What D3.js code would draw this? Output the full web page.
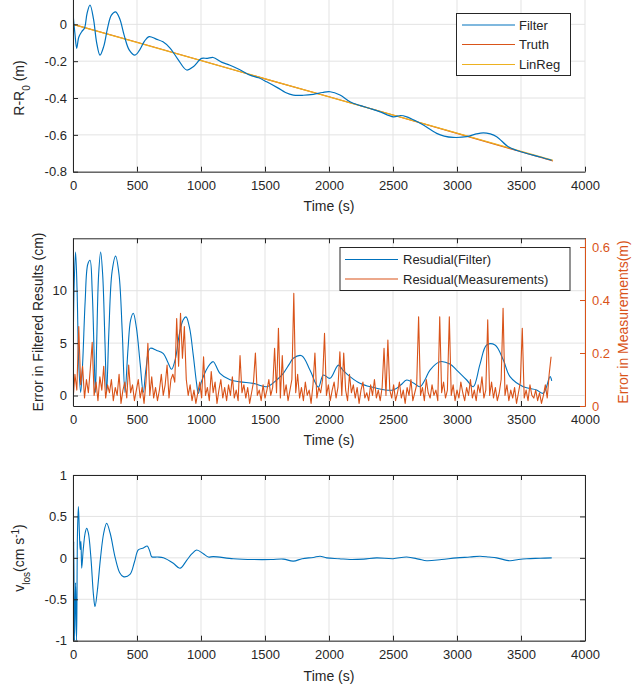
<!DOCTYPE html>
<html><head><meta charset="utf-8">
<script src="https://cdn.jsdelivr.net/npm/d3@7"></script>
<style>
body{margin:0;background:#fff;}
svg{display:block;font-family:"Liberation Sans",Arial,Helvetica,sans-serif;}
</style></head><body>
<svg id="c" width="642" height="689"></svg>
<script>
// ---------- data ----------
const timeTicks = [0,500,1000,1500,2000,2500,3000,3500,4000];
const timeTickLabels = ["0","500","1000","1500","2000","2500","3000","3500","4000"];

// Panel 1: R - R0 (m)
const rTicks = [-0.8,-0.6,-0.4,-0.2,0];
const rTickLabels = ["-0.8","-0.6","-0.4","-0.2","0"];
const filterTime = [0,15,29,45,68,90,110,133,160,185,211,240,270,300,333,365,400,440,484,520,560,594,650,703,760,820,888,940,1005,1050,1095,1160,1227,1300,1383,1450,1513,1600,1660,1721,1800,1877,1950,2008,2086,2164,2240,2320,2400,2502,2560,2607,2680,2737,2841,2900,2971,3076,3150,3206,3260,3310,3401,3470,3545,3650,3740];
const filterR = [0.06,-0.05,-0.13,-0.07,-0.04,-0.02,0.06,0.105,0.03,-0.10,-0.167,-0.12,-0.02,0.05,0.068,0.03,-0.06,-0.14,-0.167,-0.14,-0.09,-0.067,-0.08,-0.095,-0.13,-0.19,-0.248,-0.23,-0.185,-0.185,-0.18,-0.205,-0.222,-0.245,-0.276,-0.29,-0.312,-0.345,-0.37,-0.384,-0.385,-0.38,-0.37,-0.366,-0.384,-0.42,-0.44,-0.457,-0.475,-0.502,-0.495,-0.502,-0.525,-0.547,-0.592,-0.607,-0.614,-0.61,-0.595,-0.589,-0.595,-0.61,-0.665,-0.685,-0.701,-0.72,-0.738];
const truthTime = [0,500,1000,1500,2000,2500,3000,3500,3750];
const truthR = [0,-0.097,-0.196,-0.296,-0.393,-0.492,-0.592,-0.692,-0.742];
const linRegTime = [0,3750];
const linRegR = [0,-0.738];

// Panel 2: residuals
const errLeftTicks = [0,5,10];
const errLeftLabels = ["0","5","10"];
const errRightTicks = [0,0.2,0.4,0.6];
const errRightLabels = ["0","0.2","0.4","0.6"];
const resFilterTime = [0,8,20,32,45,60,75,95,115,133,150,165,175,185,200,216,232,250,263,280,305,333,360,385,406,430,450,471,495,525,549,570,602,654,706,740,770,800,830,860,883,910,940,965,979,1000,1040,1070,1096,1148,1227,1305,1409,1513,1591,1643,1690,1721,1787,1852,1917,1956,2008,2073,2110,2164,2242,2372,2502,2560,2607,2660,2711,2750,2789,2867,2945,2997,3076,3127,3180,3232,3297,3362,3414,3518,3622,3674,3727,3740];
const resFilterCm = [2,10,13.7,10,3,0.3,3,9,12.5,12.9,10,4,0.3,5,11.5,13.7,11.5,5,0.3,6,11.8,13.3,11.5,6,0.3,4.5,7.2,7.85,6.5,3,0.3,2.5,4.5,4.3,4.0,3.2,2.5,3.5,5.8,7.2,7.5,6.5,3.8,1.2,0.2,1.2,2.4,3.0,3.23,2.12,1.5,1.3,1.16,0.84,1.48,2.12,3.0,3.55,3.8,2.4,0.8,1.96,1.64,2.9,2.4,1.8,1.16,0.69,0.53,1.0,1.48,1.2,0.84,1.5,2.43,3.23,3.0,2.43,1.48,0.84,3.0,4.82,4.82,3.39,1.8,0.84,0.53,0.21,1.8,1.4];
const measStep = 15; // seconds between measurement residual samples
const resMeasM = [
0.02,0.12,0.06,0.30,0.08,0.15,0.03,0.10,0.05,0.14,
0.24,0.04,0.09,0.02,0.11,0.06,0.15,0.03,0.08,0.05,
0.10,0.02,0.07,0.04,0.12,0.01,0.06,0.09,0.03,0.155,
0.05,0.08,0.02,0.06,0.10,0.03,0.07,0.01,0.09,0.237,
0.04,0.11,0.03,0.07,0.02,0.06,0.12,0.04,0.08,0.155,
0.03,0.10,0.12,0.09,0.33,0.15,0.35,0.18,0.30,0.10,
0.04,0.08,0.02,0.06,0.01,0.05,0.09,0.03,0.186,0.04,
0.07,0.02,0.13,0.05,0.09,0.01,0.06,0.10,0.03,0.07,
0.02,0.08,0.04,0.11,0.03,0.06,0.02,0.19,0.05,0.08,
0.03,0.07,0.01,0.05,0.09,0.20,0.04,0.06,0.02,0.08,
0.03,0.06,0.10,0.04,0.07,0.218,0.05,0.293,0.03,0.19,
0.04,0.08,0.02,0.06,0.10,0.425,0.05,0.12,0.03,0.07,
0.02,0.09,0.04,0.06,0.01,0.08,0.20,0.03,0.07,0.05,
0.10,0.274,0.04,0.08,0.02,0.06,0.09,0.03,0.07,0.205,
0.04,0.20,0.06,0.02,0.12,0.05,0.08,0.03,0.07,0.01,
0.06,0.09,0.03,0.05,0.02,0.08,0.04,0.10,0.03,0.06,
0.02,0.07,0.218,0.04,0.249,0.06,0.03,0.08,0.02,0.05,
0.09,0.03,0.06,0.01,0.07,0.04,0.10,0.02,0.05,0.08,
0.337,0.04,0.07,0.02,0.10,0.05,0.03,0.08,0.04,0.06,
0.02,0.337,0.05,0.09,0.03,0.06,0.337,0.04,0.08,0.02,
0.06,0.03,0.09,0.05,0.02,0.07,0.04,0.10,0.03,0.06,
0.02,0.08,0.05,0.11,0.03,0.06,0.325,0.04,0.09,0.03,
0.07,0.02,0.05,0.10,0.369,0.04,0.08,0.02,0.06,0.03,
0.07,0.01,0.05,0.09,0.293,0.03,0.06,0.02,0.08,0.04,
0.03,0.06,0.02,0.05,0.01,0.04,0.08,0.03,0.12,0.186];

// Panel 3: v_los
const vTicks = [-1,-0.5,0,0.5,1];
const vTickLabels = ["-1","-0.5","0","0.5","1"];
const vTime = [0,6,12,20,28,35,42,50,56,62,68,80,95,107,120,140,160,172,190,215,240,263,290,330,365,393,445,480,510,550,580,600,615,660,706,784,836,888,930,966,1018,1057,1096,1252,1409,1550,1643,1721,1790,1877,1930,1982,2080,2164,2272,2372,2500,2607,2700,2763,2880,2997,3100,3180,3250,3310,3414,3480,3545,3650,3740];
const vLos = [-1,0.2,-1,-0.3,-1,0.3,0.62,0.3,0.1,0.2,-0.126,0.1,0.3,0.357,0.3,0.0,-0.45,-0.59,-0.4,0.0,0.3,0.417,0.3,0.0,-0.18,-0.227,-0.2,-0.05,0.095,0.12,0.143,0.08,0.014,0.01,0.0,-0.066,-0.126,-0.03,0.05,0.095,0.05,0.01,0.015,-0.01,-0.02,-0.02,-0.015,-0.04,-0.01,0.005,0.02,0.0,-0.01,-0.02,-0.015,0.0,-0.01,0.01,-0.015,-0.035,-0.02,0.0,0.01,0.02,0.01,0.0,-0.035,-0.02,-0.01,-0.005,0.0];

// ---------- drawing ----------
const BLUE="#0072BD", ORANGE="#D95319", YELLOW="#EDB120", AX="#262626", GRID="#e3e3e3";
const svg = d3.select("#c");
const x = d3.scaleLinear().domain([0,4000]).range([73,585]);
const X0=73, X1=585;

function zip(a,b){return a.map((t,i)=>[t,b[i]]);}

function grid(y, yTicks){
  const g = svg.append("g");
  g.selectAll("line.v").data(timeTicks).join("line")
    .attr("x1",d=>x(d)).attr("x2",d=>x(d))
    .attr("y1",y.range()[0]).attr("y2",y.range()[1])
    .attr("stroke",GRID).attr("stroke-width",1);
  g.selectAll("line.h").data(yTicks).join("line")
    .attr("x1",X0).attr("x2",X1)
    .attr("y1",d=>y(d)).attr("y2",d=>y(d))
    .attr("stroke",GRID).attr("stroke-width",1);
}
function styleAxis(g,color){
  g.selectAll(".domain").attr("stroke",color).attr("stroke-width",1);
  g.selectAll(".tick line").attr("stroke",color).attr("stroke-width",1);
  g.selectAll(".tick text").attr("fill",color).attr("font-size","13px")
    .attr("font-family",'"Liberation Sans",Arial,sans-serif');
  return g;
}
function clip(id,y){
  svg.append("clipPath").attr("id",id).append("rect")
    .attr("x",X0).attr("y",Math.min(...y.range()))
    .attr("width",X1-X0).attr("height",Math.abs(y.range()[0]-y.range()[1]));
}
function drawLine(pts,y,color,clipId,curve,w){
  svg.append("path").datum(pts)
    .attr("clip-path",`url(#${clipId})`)
    .attr("fill","none").attr("stroke",color).attr("stroke-width",w||1.1)
    .attr("stroke-linejoin","round")
    .attr("d",d3.line().x(d=>x(d[0])).y(d=>y(d[1])).curve(curve||d3.curveLinear));
}
function xAxisBottom(yPos){
  const g = svg.append("g").attr("transform",`translate(0,${yPos})`)
    .call(d3.axisBottom(x).tickValues(timeTicks).tickFormat((d,i)=>timeTickLabels[i])
      .tickSizeInner(-5).tickSizeOuter(0).tickPadding(9));
  styleAxis(g,AX);
}
function xAxisTop(yPos){
  const g = svg.append("g").attr("transform",`translate(0,${yPos})`)
    .call(d3.axisTop(x).tickValues(timeTicks).tickFormat("").tickSizeInner(-5).tickSizeOuter(0));
  styleAxis(g,AX);
}
function label(txt,xp,yp,rot,color,parts){
  const t = svg.append("text").attr("transform",`translate(${xp},${yp})${rot?" rotate(-90)":""}`)
    .attr("text-anchor","middle").attr("fill",color||AX).attr("font-size","14px");
  if(parts){
    parts.forEach(p=>{
      const s=t.append("tspan").text(p.t);
      if(p.sub){s.attr("baseline-shift","sub").attr("font-size","10px");}
      if(p.sup){s.attr("baseline-shift","super").attr("font-size","10px");}
    });
  } else t.text(txt);
  return t;
}
function legend(x0,y0,w,h,items,lineX0,lineX1,textX,rowY){
  svg.append("rect").attr("x",x0).attr("y",y0).attr("width",w).attr("height",h)
    .attr("fill","#fff").attr("stroke",AX).attr("stroke-width",1);
  items.forEach((it,i)=>{
    svg.append("line").attr("x1",lineX0).attr("x2",lineX1).attr("y1",rowY[i]).attr("y2",rowY[i])
      .attr("stroke",it.c).attr("stroke-width",1.2);
    svg.append("text").attr("x",textX).attr("y",rowY[i]).attr("dy","0.36em")
      .attr("fill",AX).attr("font-size","13px").text(it.n);
  });
}

// ---- Panel 1 ----
const y1 = d3.scaleLinear().domain([-0.8,0.2]).range([171.7,-12.5]);
grid(y1,rTicks);
clip("c1",y1);
drawLine(zip(truthTime,truthR),y1,ORANGE,"c1");
drawLine(zip(linRegTime,linRegR),y1,YELLOW,"c1");
drawLine(zip(filterTime,filterR),y1,BLUE,"c1",d3.curveCatmullRom.alpha(0.5),1.2);
xAxisBottom(171.7);
styleAxis(svg.append("g").attr("transform",`translate(${X0},0)`)
  .call(d3.axisLeft(y1).tickValues(rTicks).tickFormat((d,i)=>rTickLabels[i])
    .tickSizeInner(-5).tickSizeOuter(0).tickPadding(6)),AX);
label(null,24,88,true,AX,[{t:"R-R"},{t:"0",sub:true},{t:" (m)"}]);
label("Time (s)",329,211,false);
legend(456.5,13.5,114,62,[{n:"Filter",c:BLUE},{n:"Truth",c:ORANGE},{n:"LinReg",c:YELLOW}],462,515,519,[25,44.5,64.5]);

// ---- Panel 2 ----
const y2L = d3.scaleLinear().domain([-1,15]).range([406,238.3]);
const y2R = d3.scaleLinear().domain([0,0.633]).range([406,238.3]);
grid(y2L,errLeftTicks);
clip("c2",y2L);
drawLine(zip(resFilterTime,resFilterCm),y2L,BLUE,"c2",d3.curveCatmullRom.alpha(0.5),1.1);
drawLine(resMeasM.map((v,i)=>[i*measStep,v]),y2R,ORANGE,"c2",d3.curveLinear,1.1);
xAxisBottom(406);
xAxisTop(238.3);
styleAxis(svg.append("g").attr("transform",`translate(${X0},0)`)
  .call(d3.axisLeft(y2L).tickValues(errLeftTicks).tickFormat((d,i)=>errLeftLabels[i])
    .tickSizeInner(-5).tickSizeOuter(0).tickPadding(6)),AX);
styleAxis(svg.append("g").attr("transform",`translate(${X1},0)`)
  .call(d3.axisRight(y2R).tickValues(errRightTicks).tickFormat((d,i)=>errRightLabels[i])
    .tickSizeInner(-5).tickSizeOuter(0).tickPadding(7)),ORANGE);
label("Error in Filtered Results (cm)",43,322,true);
label("Error in Measurements(m)",628,322,true,ORANGE);
label("Time (s)",329,445,false);
legend(340,247.5,230,43,[{n:"Resudial(Filter)",c:BLUE},{n:"Residual(Measurements)",c:ORANGE}],345,398,403,[259.5,279]);

// ---- Panel 3 ----
const y3 = d3.scaleLinear().domain([-1,1]).range([640.7,475]);
grid(y3,vTicks);
clip("c3",y3);
drawLine(zip(vTime,vLos),y3,BLUE,"c3",d3.curveCatmullRom.alpha(0.5),1.1);
xAxisBottom(640.7);
xAxisTop(475);
styleAxis(svg.append("g").attr("transform",`translate(${X0},0)`)
  .call(d3.axisLeft(y3).tickValues(vTicks).tickFormat((d,i)=>vTickLabels[i])
    .tickSizeInner(-5).tickSizeOuter(0).tickPadding(6)),AX);
styleAxis(svg.append("g").attr("transform",`translate(${X1},0)`)
  .call(d3.axisRight(y3).tickValues(vTicks).tickFormat("")
    .tickSizeInner(-5).tickSizeOuter(0)),AX);
label(null,24,558,true,AX,[{t:"v"},{t:"los",sub:true},{t:"(cm s"},{t:"-1",sup:true},{t:")"}]);
label("Time (s)",329,681,false);
</script>
</body></html>
